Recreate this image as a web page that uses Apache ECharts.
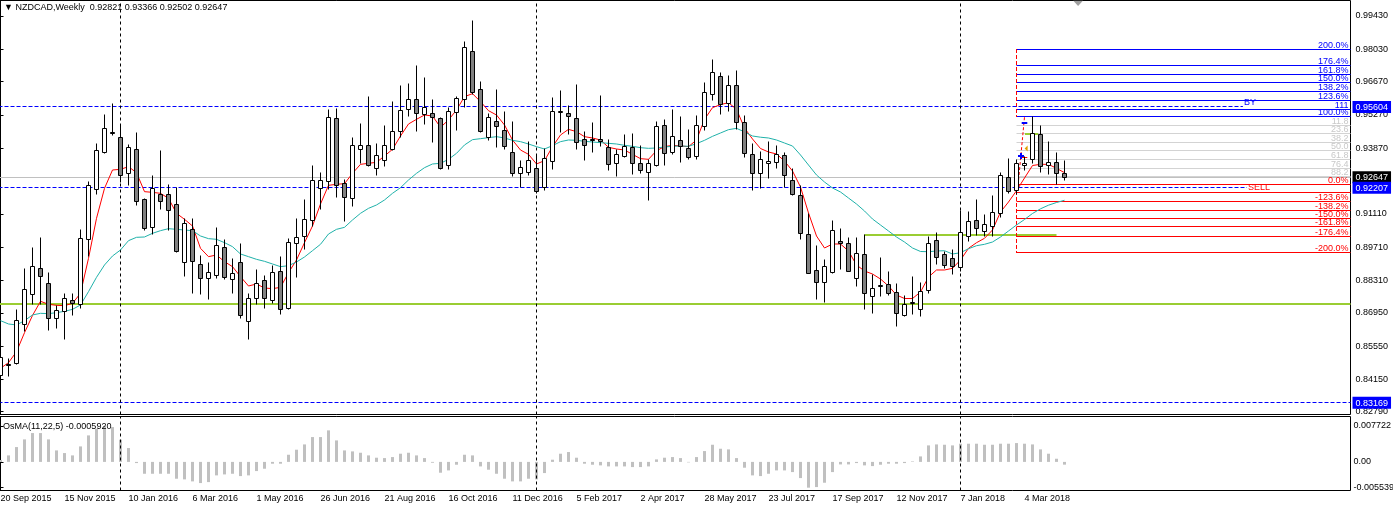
<!DOCTYPE html>
<html><head><meta charset="utf-8">
<script src="https://cdn.jsdelivr.net/npm/echarts@6/dist/echarts.min.js"></script>
<style>html,body{margin:0;padding:0;background:#fff}#c{width:1393px;height:510px}</style>
</head><body><div id="c"></div>
<script>
const symbolName = 'NZDCAD', timeframe = 'Weekly';
const dates = ['2015-09-20','2015-09-27','2015-10-04','2015-10-11','2015-10-18','2015-10-25','2015-11-01','2015-11-08','2015-11-15','2015-11-22','2015-11-29','2015-12-06','2015-12-13','2015-12-20','2015-12-27',
'2016-01-03','2016-01-10','2016-01-17','2016-01-24','2016-01-31','2016-02-07','2016-02-14','2016-02-21','2016-02-28','2016-03-06','2016-03-13','2016-03-20','2016-03-27','2016-04-03','2016-04-10','2016-04-17','2016-04-24','2016-05-01','2016-05-08','2016-05-15','2016-05-22','2016-05-29','2016-06-05','2016-06-12','2016-06-19','2016-06-26','2016-07-03','2016-07-10','2016-07-17','2016-07-24','2016-07-31','2016-08-07','2016-08-14','2016-08-21','2016-08-28','2016-09-04','2016-09-11','2016-09-18','2016-09-25','2016-10-02','2016-10-09','2016-10-16','2016-10-23','2016-10-30','2016-11-06','2016-11-13','2016-11-20','2016-11-27','2016-12-04','2016-12-11','2016-12-18','2016-12-25',
'2017-01-01','2017-01-08','2017-01-15','2017-01-22','2017-01-29','2017-02-05','2017-02-12','2017-02-19','2017-02-26','2017-03-05','2017-03-12','2017-03-19','2017-03-26','2017-04-02','2017-04-09','2017-04-16','2017-04-23','2017-04-30','2017-05-07','2017-05-14','2017-05-21','2017-05-28','2017-06-04','2017-06-11','2017-06-18','2017-06-25','2017-07-02','2017-07-09','2017-07-16','2017-07-23','2017-07-30','2017-08-06','2017-08-13','2017-08-20','2017-08-27','2017-09-03','2017-09-10','2017-09-17','2017-09-24','2017-10-01','2017-10-08','2017-10-15','2017-10-22','2017-10-29','2017-11-05','2017-11-12','2017-11-19','2017-11-26','2017-12-03','2017-12-10','2017-12-17','2017-12-24','2017-12-31',
'2018-01-07','2018-01-14','2018-01-21','2018-01-28','2018-02-04','2018-02-11','2018-02-18','2018-02-25','2018-03-04','2018-03-11','2018-03-18','2018-03-25','2018-04-01','2018-04-08'];

const opens = [0.84292,0.84782,0.84825,0.86465,0.87726,0.88791,0.88189,0.86717,0.86997,0.87446,0.87277,0.90039,0.92113,0.93683,0.94552,0.94328,0.92786,0.93823,0.91721,0.90543,
0.91931,0.91931,0.91511,0.89072,0.90459,0.88988,0.88371,0.88511,0.89702,0.88329,0.89072,0.86577,0.87558,0.88315,0.87460,0.88693,0.87137,0.89871,0.90151,0.90810,
0.92183,0.92464,0.95127,0.92366,0.91763,0.93823,0.93964,0.93024,0.93361,0.93823,0.94580,0.95505,0.95926,0.95295,0.95337,0.95099,0.93151,0.95379,0.95926,0.97944,
0.96346,0.94328,0.95001,0.94622,0.93697,0.92814,0.92856,0.93024,0.92211,0.93319,0.95393,0.95337,0.95127,0.94244,0.94216,0.94244,0.93908,0.93235,0.93529,0.93908,
0.93235,0.92856,0.93151,0.94833,0.93697,0.94202,0.93865,0.93529,0.94791,0.96136,0.96893,0.95758,0.96515,0.94959,0.93613,0.92814,0.93235,0.93277,0.93571,0.92520,
0.91889,0.90249,0.88735,0.88231,0.88651,0.89955,0.89871,0.88399,0.89408,0.87642,0.88048,0.88147,0.87810,0.86843,0.87334,0.87095,0.87894,0.89997,0.89408,0.89240,
0.88861,0.90165,0.90838,0.90375,0.90586,0.91132,0.92646,0.92099,0.93151,0.93403,0.94454,0.93151,0.93277,0.92821];
const highs = [0.85133,0.85035,0.87095,0.88791,0.89688,0.90109,0.88651,0.87235,0.87740,0.87740,0.90459,0.92464,0.94048,0.95267,0.95730,0.94805,0.94006,0.94538,0.91763,0.92702,
0.93795,0.92352,0.92211,0.90894,0.90894,0.89338,0.89072,0.90543,0.90011,0.89240,0.89871,0.87740,0.88749,0.88525,0.88917,0.89310,0.90053,0.90922,0.91693,0.93123,
0.92856,0.95505,0.95534,0.92562,0.94300,0.94917,0.96038,0.94076,0.94805,0.95814,0.96487,0.96571,0.97328,0.96837,0.95926,0.95169,0.95576,0.96038,0.98351,0.99220,
0.96655,0.95337,0.96346,0.95435,0.95001,0.93361,0.94132,0.93571,0.93865,0.96010,0.96290,0.95674,0.96529,0.94580,0.94931,0.96066,0.94216,0.93823,0.94426,0.94468,
0.93964,0.93375,0.94973,0.95057,0.95505,0.95211,0.94664,0.95253,0.96613,0.97580,0.97075,0.96949,0.97159,0.95253,0.94048,0.93739,0.94160,0.93992,0.93697,0.93024,
0.92310,0.91132,0.89787,0.89198,0.90838,0.90501,0.90123,0.90123,0.90221,0.88567,0.89282,0.88693,0.88189,0.87684,0.88483,0.88231,0.90151,0.90333,0.89520,0.89618,
0.91258,0.91216,0.91721,0.91090,0.91889,0.92856,0.93445,0.93403,0.93515,0.95183,0.94805,0.94160,0.93697,0.93366];
const lows = [0.83169,0.84264,0.84754,0.86156,0.87277,0.87277,0.86198,0.86296,0.85834,0.86815,0.87137,0.89310,0.91931,0.93655,0.94384,0.92422,0.92282,0.91455,0.90403,0.90249,
0.91300,0.90403,0.89478,0.88469,0.87768,0.87698,0.87516,0.88399,0.88329,0.87768,0.86717,0.85834,0.87277,0.87137,0.87348,0.86885,0.87095,0.88441,0.89618,0.90571,
0.91300,0.92113,0.91805,0.90782,0.91413,0.93235,0.93095,0.92702,0.93095,0.93795,0.94328,0.95197,0.94566,0.94861,0.94104,0.92982,0.92954,0.94608,0.95590,0.96150,
0.94524,0.94188,0.93893,0.93809,0.92674,0.92211,0.92702,0.91945,0.92085,0.92982,0.94524,0.94426,0.93809,0.93333,0.93683,0.93936,0.92926,0.92674,0.93487,0.92772,
0.92814,0.91665,0.93095,0.93137,0.93613,0.93277,0.93375,0.93403,0.94636,0.95884,0.95295,0.95421,0.94664,0.93487,0.92085,0.92169,0.92604,0.93024,0.92211,0.91875,
0.90039,0.88581,0.87488,0.87376,0.88609,0.88777,0.88665,0.88048,0.87095,0.86927,0.87628,0.87684,0.86366,0.86787,0.86857,0.86787,0.87768,0.88988,0.88819,0.88567,
0.88665,0.89955,0.90193,0.90151,0.90151,0.90964,0.91945,0.91931,0.92926,0.93235,0.92842,0.92744,0.92338,0.92502];
const closes = [0.85077,0.84726,0.86605,0.87908,0.88875,0.88483,0.86717,0.87053,0.87558,0.87320,0.90081,0.92310,0.93781,0.94707,0.94482,0.92702,0.93908,0.91609,0.90487,0.92183,
0.91637,0.91258,0.89534,0.90712,0.89114,0.88371,0.88651,0.89787,0.88413,0.88609,0.86815,0.87558,0.88189,0.87530,0.88651,0.87095,0.89913,0.90123,0.90880,0.92520,
0.92520,0.95169,0.92282,0.91805,0.93964,0.93992,0.93123,0.93543,0.93992,0.94580,0.95463,0.95926,0.95337,0.95590,0.95169,0.93010,0.95421,0.95968,0.98113,0.96220,
0.94566,0.95169,0.94791,0.93950,0.92814,0.93067,0.93361,0.92043,0.93445,0.95421,0.95421,0.95211,0.94118,0.93992,0.94188,0.94160,0.93193,0.93613,0.93950,0.93235,
0.92940,0.93235,0.94791,0.93655,0.94370,0.93950,0.93487,0.94833,0.96220,0.97061,0.95716,0.96515,0.94959,0.93655,0.92814,0.93403,0.93319,0.93613,0.92730,0.91931,
0.90291,0.88609,0.88231,0.88903,0.90417,0.89871,0.88693,0.89450,0.87768,0.87978,0.88076,0.87768,0.86927,0.87306,0.87362,0.87852,0.89871,0.89282,0.88946,0.88889,
0.90333,0.90796,0.90501,0.90670,0.91174,0.92730,0.92043,0.93235,0.93235,0.94496,0.93095,0.93277,0.92814,0.92647];
const maFast = [0.84614,0.84853,0.85313,0.86112,0.86837,0.87433,0.87306,0.87263,0.87249,0.87348,0.87768,0.89240,0.90922,0.92183,0.92954,0.92982,0.93095,0.92842,0.92043,0.92015,
0.91973,0.91763,0.91132,0.90880,0.90600,0.89660,0.89310,0.89380,0.89100,0.88889,0.88469,0.88076,0.88161,0.87992,0.87964,0.88020,0.88637,0.89170,0.89899,0.90600,
0.91525,0.92310,0.92352,0.92380,0.92814,0.93193,0.93235,0.93277,0.93543,0.93823,0.94384,0.94889,0.95085,0.95267,0.95225,0.94749,0.95057,0.95477,0.96038,0.96164,
0.95828,0.95449,0.95267,0.94847,0.94216,0.93795,0.93613,0.93207,0.93347,0.93936,0.94426,0.94664,0.94566,0.94356,0.94300,0.94216,0.93908,0.93837,0.93795,0.93613,
0.93431,0.93403,0.93767,0.93936,0.93992,0.93964,0.93936,0.94216,0.95085,0.95576,0.95702,0.95786,0.95505,0.94720,0.94257,0.93858,0.93711,0.93627,0.93332,0.92912,
0.92239,0.91146,0.90178,0.89674,0.89842,0.89842,0.89548,0.88959,0.88706,0.88580,0.88370,0.88076,0.87697,0.87550,0.87550,0.87823,0.88454,0.88749,0.88749,0.88820,
0.89169,0.89661,0.89897,0.90082,0.90431,0.91187,0.91608,0.92084,0.92617,0.93143,0.93193,0.93193,0.93024,0.92842];
const maSlow = [0.86619,0.86479,0.86437,0.86619,0.86857,0.86927,0.86913,0.86955,0.87011,0.87095,0.87277,0.87838,0.88441,0.88960,0.89338,0.89590,0.89983,0.90123,0.90137,0.90291,
0.90403,0.90487,0.90459,0.90431,0.90403,0.90179,0.90067,0.90039,0.89899,0.89730,0.89422,0.89310,0.89198,0.89114,0.89002,0.88889,0.88931,0.89086,0.89296,0.89562,
0.89829,0.90263,0.90459,0.90543,0.90852,0.91132,0.91342,0.91483,0.91693,0.91973,0.92211,0.92534,0.92814,0.93052,0.93207,0.93235,0.93403,0.93655,0.94006,0.94230,
0.94272,0.94314,0.94356,0.94300,0.94202,0.94146,0.94048,0.93936,0.93837,0.93978,0.94146,0.94216,0.94202,0.94160,0.94132,0.94104,0.94076,0.94048,0.93992,0.93950,
0.93893,0.93865,0.93880,0.93922,0.93950,0.93964,0.93950,0.94062,0.94202,0.94370,0.94510,0.94650,0.94707,0.94556,0.94384,0.94333,0.94300,0.94216,0.94089,0.93963,
0.93585,0.93164,0.92744,0.92449,0.92197,0.92029,0.91776,0.91524,0.91230,0.90893,0.90641,0.90389,0.90136,0.89926,0.89674,0.89527,0.89518,0.89548,0.89560,0.89421,
0.89476,0.89644,0.89770,0.89829,0.89926,0.90136,0.90389,0.90641,0.90872,0.91125,0.91322,0.91474,0.91587,0.91680];
const osma = [0.00040,0.00140,0.00319,0.00484,0.00620,0.00620,0.00484,0.00247,0.00190,0.00140,0.00333,0.00570,0.00713,0.00772,0.00749,0.00477,0.00298,-0.00025,-0.00255,-0.00255,
-0.00255,-0.00255,-0.00362,-0.00376,-0.00419,-0.00455,-0.00434,-0.00290,-0.00269,-0.00255,-0.00305,-0.00290,-0.00197,-0.00147,-0.00039,-0.00039,0.00154,0.00262,0.00376,0.00534,
0.00534,0.00678,0.00462,0.00247,0.00226,0.00197,0.00140,0.00090,0.00082,0.00104,0.00176,0.00197,0.00140,0.00082,-0.00018,-0.00233,-0.00183,-0.00061,0.00154,0.00140,
-0.00097,-0.00168,-0.00255,-0.00362,-0.00419,-0.00419,-0.00362,-0.00376,-0.00240,0.00047,0.00176,0.00212,0.00090,-0.00039,-0.00061,-0.00075,-0.00097,-0.00097,-0.00097,-0.00111,
-0.00111,-0.00097,0.00054,0.00090,0.00104,0.00082,-0.00010,0.00104,0.00233,0.00369,0.00283,0.00269,0.00082,-0.00125,-0.00290,-0.00305,-0.00255,-0.00183,-0.00183,-0.00219,
-0.00348,-0.00554,-0.00541,-0.00448,-0.00219,-0.00054,-0.00054,-0.00025,-0.00075,-0.00090,-0.00061,-0.00039,-0.00039,-0.00025,0.00011,0.00118,0.00355,0.00376,0.00369,0.00355,
0.00391,0.00391,0.00391,0.00369,0.00369,0.00391,0.00391,0.00405,0.00391,0.00376,0.00269,0.00176,0.00068,-0.000592];

const tickIdx = [0,8,16,24,32,40,48,56,64,72,80,88,96,104,112,120,128];
const tickLabels = ['20 Sep 2015','15 Nov 2015','10 Jan 2016','6 Mar 2016','1 May 2016','26 Jun 2016','21 Aug 2016','16 Oct 2016','11 Dec 2016','5 Feb 2017','2 Apr 2017','28 May 2017','23 Jul 2017','17 Sep 2017','12 Nov 2017','7 Jan 2018','4 Mar 2018'];
const priceTicks = [0.99430,0.98030,0.96670,0.95270,0.93870,0.91110,0.89710,0.88310,0.86950,0.85550,0.84150,0.82790];
const osmaTicks = [0.007722,0,-0.005539];

// annotation levels (price values)
const fibStart = 127;
const fibBlue = [0.98042,0.97367,0.96950,0.96613,0.96275,0.95858,0.95497,0.95183];
const fibBlueText = ['200.0%','176.4%','161.8%','150.0%','138.2%','123.6%','111','100.0%'];
const fibGray = [0.94846,0.94508,0.94091,0.93754,0.93416,0.92999,0.92661];
const fibGrayText = ['11.8','23.6','38.2','50.0','61.8','76.4','88.2'];
const fibRed = [0.92324,0.92009,0.91649,0.91232,0.90895,0.90557,0.90140,0.89465];
const fibRedText = ['0.0%','','-123.6%','-138.2%','-150.0%','-161.8%','-176.4%','-200.0%'];
const buyLevel = 0.95604, buyEnd = 155.3;
const sellLevel = 0.92207, sellEnd = 155.8;
const lowLevel = 0.83169;
const greenLevel = 0.87320;
const greenShort = [108, 132, 0.90221];
const greenTiny = [128.06, 129.7, 0.94481];
const fibDiagonal = [127.2, 0.92324, 128.0, 0.95183];
const tradePlus = [127.56, 0.93555];
const tradeRed = [127.6, 128.35, 0.93488];
const tradeBlue = [127.65, 128.35, 0.94918];
const tradeArrow = [128.2, 0.93855];
const shiftMark = 134.7;
const flagValues = [0.95604, 0.92647, 0.92207, 0.83169];
const flagColors = ['#0000ff', '#000000', '#0000ff', '#0000ff'];

const FONT = "'Liberation Sans', Arial, 'DejaVu Sans', sans-serif";
const last = closes.length - 1;
const X_MIN = -0.25, X_MAX = 168.75;
const Y_MIN = 0.82672, Y_MAX = 1.00082;
const O_MIN = -0.006149, O_MAX = 0.009761;

const candleData = opens.map((o, i) => [i, o, closes[i], lows[i], highs[i]]);
const yearStarts = [];
for (let i = 1; i < dates.length; i++) if (dates[i].slice(0, 4) !== dates[i - 1].slice(0, 4)) yearStarts.push(i);

function renderCandle(params, api) {
  const i = api.value(0), o = api.value(1), c = api.value(2), l = api.value(3), h = api.value(4);
  const pO = api.coord([i, o]), pC = api.coord([i, c]), pL = api.coord([i, l]), pH = api.coord([i, h]);
  const snap = v => Math.round(v - 0.5) + 0.5;
  const x = snap(pO[0]);
  const yo = snap(pO[1]), yc = snap(pC[1]), yl = snap(pL[1]), yh = snap(pH[1]);
  const top = Math.min(yo, yc), bot = Math.max(yo, yc);
  const bull = c >= o;
  return { type: 'group', children: [
    { type: 'line', shape: { x1: x, y1: yh, x2: x, y2: yl }, style: { stroke: '#000', lineWidth: 1 } },
    { type: 'rect', shape: { x: x - 2, y: top, width: 4, height: bot - top }, style: { fill: bull ? '#ffffff' : '#808080', stroke: '#000', lineWidth: 1 } }
  ]};
}

// annotation objects (drawn through the axes' scales)
const annots = [];
const add = (kind, x1, y1, x2, y2, o) => annots.push(Object.assign({ kind, x1, y1, x2, y2, stroke: '#000', width: 1 }, o || {}));
add('h', X_MIN, X_MAX, 0, 0);
annots.pop();
add('h', X_MIN, closes[last], X_MAX, closes[last], { stroke: '#c0c0c0' });
add('h', X_MIN, greenLevel, X_MAX, greenLevel, { stroke: '#9acd32', width: 2 });
add('h', greenShort[0], greenShort[2], greenShort[1], greenShort[2], { stroke: '#9acd32', width: 2 });
fibGray.forEach((v, k) => add('h', fibStart, v, X_MAX, v, { stroke: '#d3d3d3', label: fibGrayText[k], labelColor: '#c8c8c8' }));
fibBlue.forEach((v, k) => add('h', fibStart, v, X_MAX, v, { stroke: '#0000ff', label: fibBlueText[k], labelColor: '#0000ff' }));
fibRed.forEach((v, k) => add('h', fibStart, v, X_MAX, v, { stroke: '#ff0000', label: fibRedText[k], labelColor: '#ff0000' }));
add('v', fibStart, fibBlue[0], fibStart, fibBlue[fibBlue.length - 1], { stroke: '#ff0000', dash: [4, 2] });
add('v', fibStart, fibRed[0], fibStart, fibRed[fibRed.length - 1], { stroke: '#ff0000', dash: [4, 2] });
add('seg', fibDiagonal[0], fibDiagonal[1], fibDiagonal[2], fibDiagonal[3], { stroke: '#ff0000', dash: [3, 2] });
add('h', X_MIN, buyLevel, buyEnd, buyLevel, { stroke: '#0000ff', dash: [4, 2], label: 'BY', labelColor: '#0000ff', labelPos: 'end', dy: -3.5 });
add('h', X_MIN, sellLevel, sellEnd, sellLevel, { stroke: '#0000ff', dash: [4, 2], label: 'SELL', labelColor: '#ff0000', labelPos: 'end', dy: 0.5 });
add('h', X_MIN, lowLevel, X_MAX, lowLevel, { stroke: '#0000ff', dash: [4, 2] });
add('h', greenTiny[0], greenTiny[2], greenTiny[1], greenTiny[2], { stroke: '#9acd32', width: 2 });
add('h', tradeRed[0], tradeRed[2], tradeRed[1], tradeRed[2], { stroke: '#ff0000' });
add('h', tradeBlue[0], tradeBlue[2], tradeBlue[1], tradeBlue[2], { stroke: '#0000ff', width: 2 });
add('plus', tradePlus[0], tradePlus[1], tradePlus[0], tradePlus[1], { stroke: '#0000ff' });
add('tri', tradeArrow[0], tradeArrow[1], tradeArrow[0], tradeArrow[1], { stroke: '#e0a000', pts: [[1.5, -3], [1.5, 3], [-1.5, 0]] });
add('tri', shiftMark, Y_MAX, shiftMark, Y_MAX, { stroke: '#a0a0a0', pts: [[-5, 0], [5, 0], [0, 5.5]] });
yearStarts.forEach(i => add('v', i, Y_MIN, i, Y_MAX, { stroke: '#000', dash: [3, 3] }));

const annots2 = [];
yearStarts.forEach(i => annots2.push({ kind: 'v', x1: i, y1: O_MIN, x2: i, y2: O_MAX, stroke: '#000', width: 1, dash: [3, 3] }));

function makeRender(list) {
  return function (params, api) {
    const a = list[api.value(4)];
    const p1 = api.coord([api.value(0), api.value(1)]);
    const p2 = api.coord([api.value(2), api.value(3)]);
    const odd = a.width % 2 === 1;
    const snap = v => odd ? Math.round(v - 0.5) + 0.5 : Math.round(v);
    const ls = { stroke: a.stroke, lineWidth: a.width, lineDash: a.dash || null, fill: null };
    const ch = [];
    if (a.kind === 'h') {
      const y = snap(p1[1]);
      ch.push({ type: 'line', shape: { x1: p1[0], y1: y, x2: p2[0], y2: y }, style: ls });
      if (a.label) {
        if (a.labelPos === 'end') {
          ch.push({ type: 'text', x: p2[0] + 1, y: y + (a.dy || 0), style: { text: a.label, fill: a.labelColor, fontSize: 9, fontFamily: FONT, align: 'left', verticalAlign: 'middle' } });
        } else {
          ch.push({ type: 'text', x: p2[0] - 2, y: y + 0.5, style: { text: a.label, fill: a.labelColor, fontSize: 9, fontFamily: FONT, align: 'right', verticalAlign: 'bottom' } });
        }
      }
    } else if (a.kind === 'v') {
      const x = snap(p1[0]);
      ch.push({ type: 'line', shape: { x1: x, y1: p1[1], x2: x, y2: p2[1] }, style: ls });
    } else if (a.kind === 'seg') {
      ch.push({ type: 'line', shape: { x1: p1[0], y1: p1[1], x2: p2[0], y2: p2[1] }, style: ls });
    } else if (a.kind === 'plus') {
      const cx = Math.round(p1[0]), cy = Math.round(p1[1]);
      ch.push({ type: 'rect', shape: { x: cx - 3, y: cy - 1, width: 6, height: 2 }, style: { fill: a.stroke } });
      ch.push({ type: 'rect', shape: { x: cx - 1, y: cy - 3, width: 2, height: 6 }, style: { fill: a.stroke } });
    } else if (a.kind === 'tri') {
      ch.push({ type: 'polygon', shape: { points: a.pts.map(p => [p1[0] + p[0], p1[1] + p[1]]) }, style: { fill: a.stroke } });
    }
    return { type: 'group', children: ch };
  };
}

const rich = {};
flagColors.forEach((c, k) => rich['f' + k] = { backgroundColor: c, color: '#fff', padding: [2, 3, 1, 3], fontSize: 9, fontFamily: FONT });

const chart = echarts.init(document.getElementById('c'), null, { renderer: 'canvas' });
chart.setOption({
  animation: false,
  backgroundColor: '#ffffff',
  title: [
    { text: '\u25BC ' + symbolName + ',' + timeframe + '  ' + [opens[last], highs[last], lows[last], closes[last]].map(v => v.toFixed(5)).join(' '),
      left: 4, top: 3, padding: 0, textStyle: { fontSize: 9, fontWeight: 'normal', color: '#000', fontFamily: FONT } },
    { text: 'OsMA(11,22,5) ' + osma[last].toFixed(7), left: 3, top: 422, padding: 0,
      textStyle: { fontSize: 9, fontWeight: 'normal', color: '#000', fontFamily: FONT } }
  ],
  grid: [
    { left: -1.5, right: 42.5, top: 0.5, height: 414, show: true, borderColor: '#000', borderWidth: 1, outerBoundsMode: 'none', containLabel: false },
    { left: -1.5, right: 42.5, top: 416.5, height: 74, show: true, borderColor: '#000', borderWidth: 1, outerBoundsMode: 'none', containLabel: false }
  ],
  xAxis: [
    { type: 'value', gridIndex: 0, min: X_MIN, max: X_MAX, axisLine: { show: false }, axisTick: { show: false }, axisLabel: { show: false }, splitLine: { show: false } },
    { type: 'value', gridIndex: 1, min: X_MIN, max: X_MAX, axisLine: { show: false }, axisTick: { show: false }, splitLine: { show: false },
      axisLabel: { customValues: tickIdx, formatter: v => tickLabels[tickIdx.indexOf(Math.round(v))] || '', align: 'left', margin: 4, color: '#000', fontSize: 9, fontFamily: FONT } }
  ],
  yAxis: [
    { type: 'value', gridIndex: 0, position: 'right', min: Y_MIN, max: Y_MAX, splitLine: { show: false },
      axisLine: { show: true, lineStyle: { color: '#000' } },
      axisTick: { show: true, inside: false, length: 3, customValues: priceTicks, lineStyle: { color: '#000' } },
      axisLabel: { customValues: priceTicks, formatter: v => v.toFixed(5), margin: 5, color: '#000', fontSize: 9, fontFamily: FONT } },
    { type: 'value', gridIndex: 0, position: 'right', min: Y_MIN, max: Y_MAX, splitLine: { show: false },
      axisLine: { show: false }, axisTick: { show: false },
      axisLabel: { customValues: flagValues, margin: 2, rich: rich,
        formatter: v => { const k = flagValues.findIndex(f => Math.abs(f - v) < 1e-7); return '{f' + k + '|' + v.toFixed(5) + '}'; } } },
    { type: 'value', gridIndex: 1, position: 'right', min: O_MIN, max: O_MAX, splitLine: { show: false },
      axisLine: { show: true, lineStyle: { color: '#000' } },
      axisTick: { show: true, inside: false, length: 3, customValues: osmaTicks, lineStyle: { color: '#000' } },
      axisLabel: { customValues: osmaTicks, formatter: v => (Math.abs(v) < 1e-9 ? '0.00' : v.toFixed(6)), margin: 3, color: '#000', fontSize: 9, fontFamily: FONT } }
  ],
  series: [
    { type: 'custom', name: 'objects', xAxisIndex: 0, yAxisIndex: 0, data: annots.map((a, k) => [a.x1, a.y1, a.x2, a.y2, k]),
      renderItem: makeRender(annots), encode: { x: [0, 2], y: [1, 3] }, clip: true, z: 1, silent: true },
    { type: 'line', name: 'MA fast', xAxisIndex: 0, yAxisIndex: 0, data: maFast.map((v, i) => [i, v]), showSymbol: false, symbol: 'none',
      lineStyle: { color: '#ff0000', width: 1 }, z: 3, silent: true },
    { type: 'line', name: 'MA slow', xAxisIndex: 0, yAxisIndex: 0, data: maSlow.map((v, i) => [i, v]), showSymbol: false, symbol: 'none',
      lineStyle: { color: '#20b2aa', width: 1 }, z: 3, silent: true },
    { type: 'custom', name: 'candles', xAxisIndex: 0, yAxisIndex: 0, data: candleData, renderItem: renderCandle, clip: true, z: 5,
      encode: { x: 0, y: [1, 2, 3, 4] }, silent: true },
    { type: 'bar', name: 'OsMA', xAxisIndex: 1, yAxisIndex: 2, data: osma.map((v, i) => [i, v]), barWidth: 3, itemStyle: { color: '#c0c0c0' }, silent: true },
    { type: 'custom', name: 'separators', xAxisIndex: 1, yAxisIndex: 2, data: annots2.map((a, k) => [a.x1, a.y1, a.x2, a.y2, k]),
      renderItem: makeRender(annots2), encode: { x: [0, 2], y: [1, 3] }, clip: true, z: 4, silent: true }
  ]
});
</script></body></html>
